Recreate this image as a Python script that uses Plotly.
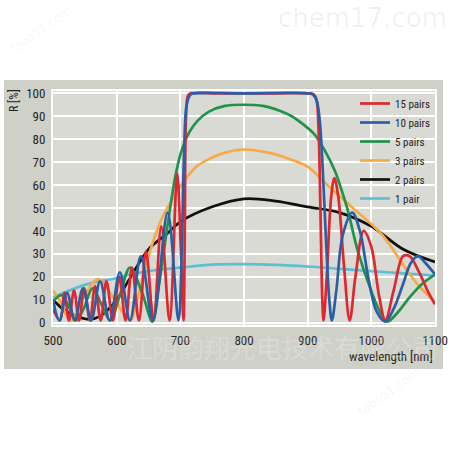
import plotly.graph_objects as go

# ---- data ----
wl_15 = [500,511,518,525,533,541,549,558,566,575,584,594,604,614,624,635,646,658,670,683,
         695,701,705,707,709,712,716,750,800,850,900,910,914,917,920,923,925,930,937,942,
         948,957,966,975,988,1000,1012,1022,1035,1050,1060,1075,1090,1100]
r_15 = [6,1,13,1,14,1,15,1,16,1,18,1,20,1,24,1,31,1,42,1,
        65,30,1,40,90,99,100,100,100,100,100,99.5,97,85,50,10,1,20,55,63,
        55,25,1,20,40,33,12,1,14,29,29,22,13,8]

wl_10 = [500,510,522,534,547,560,574,589,605,621,638,657,680,697,702,706,710,716,725,800,
         900,908,914,919,924,929,934,938,945,955,970,982,995,1008,1022,1035,1050,1062,1073,1085,1100]
r_10 = [10,1,13,1,15,1,18,1,22,1,29,1,48,1,30,75,95,99.5,100,100,
        100,99.5,97,88,65,35,10,1,14,38,48,40,20,5,0.5,6,17,26,29,26,21]

wl_5 = [500,513,525,536,548,562,576,590,605,621,640,656,664,674,684,693,703,714,727,745,
        770,800,830,855,875,895,911,927,943,953,963,979,1001,1015,1025,1040,1060,1080,1100]
r_5 = [9,12,7,1,6,15,8,1,12,24,13,0.5,12,31,50,65,76,83,88,92,
       94.5,95,94.5,92.5,90,86,82,75,66,58,49,31,13,4,0.5,4,11,17,21]

wl_3 = [500,510,528,550,571,597,621,632,645,658,672,688,704,725,750,775,800,840,870,900,
        927,955,979,1000,1021,1053,1075,1100]
r_3 = [14,10,1,12,19,10,1,10,24,36,46,54,61,68,72,74.5,75.5,74,71.5,68,
       61,54,48,43,37,24,16,9]

wl_2 = [500,520,540,557,575,600,620,650,680,700,750,800,850,900,950,1000,1050,1100]
r_2 = [10,5,2.5,1.5,3,10,19,32,39,44,50.5,54,53,50.5,48,42,32,26.5]

wl_1 = [500,550,600,621,650,700,750,800,850,900,950,1000,1050,1100]
r_1 = [11,16.5,19.5,21,22.5,24,25.3,25.5,25.2,24.5,23.5,22.5,21.5,20.5]

series_names = ["15 pairs", "10 pairs", "5 pairs", "3 pairs", "2 pairs", "1 pair"]
x_ticks = [500, 600, 700, 800, 900, 1000, 1100]
y_ticks = [0, 10, 20, 30, 40, 50, 60, 70, 80, 90, 100]

colors = {
    "15 pairs": "#e0262e",
    "10 pairs": "#2a5fa6",
    "5 pairs": "#1f9448",
    "3 pairs": "#f7a847",
    "2 pairs": "#111111",
    "1 pair": "#5cc0d4",
}
data = {
    "15 pairs": (wl_15, r_15),
    "10 pairs": (wl_10, r_10),
    "5 pairs": (wl_5, r_5),
    "3 pairs": (wl_3, r_3),
    "2 pairs": (wl_2, r_2),
    "1 pair": (wl_1, r_1),
}
draw_order = ["1 pair", "2 pairs", "3 pairs", "5 pairs", "15 pairs", "10 pairs"]

FONT = "Roboto Condensed, Liberation Sans Narrow, Arial Narrow, Liberation Sans, Arial, sans-serif"
TXT = "#262626"

fig = go.Figure()
for name in draw_order:
    x, y = data[name]
    fig.add_trace(go.Scatter(
        x=x, y=y, mode="lines", name=name,
        line=dict(color=colors[name], width=2.7, shape="spline", smoothing=1.0),
        legendrank=series_names.index(name) + 1,
    ))

# plot area pixel geometry (page pixels; body margin removed below)
L, R, T, B = 53, 16, 91, 126
W, H = 451 - L - R, 451 - T - B

def px(xp):
    return (xp - L) / W

def py(yp):
    return (451 - B - yp) / H

fig.update_layout(
    width=451, height=451,
    margin=dict(l=L, r=R, t=T, b=B, autoexpand=False),
    paper_bgcolor="white",
    plot_bgcolor="rgba(0,0,0,0)",
    showlegend=True,
    legend=dict(
        x=px(355), y=py(89), xanchor="left", yanchor="top",
        bgcolor="rgba(0,0,0,0)", font=dict(family=FONT, size=11, color=TXT),
        tracegroupgap=0, itemwidth=30,
    ),
    font=dict(family=FONT, color=TXT),
    shapes=[
        dict(type="rect", xref="paper", yref="paper",
             x0=px(4), x1=px(443), y0=py(369), y1=py(80),
             fillcolor="#cfd0c8", line=dict(width=0), layer="below"),
        dict(type="rect", xref="paper", yref="paper",
             x0=0, x1=1, y0=0, y1=1,
             fillcolor="#d9dad3", line=dict(width=0), layer="below"),
    ],
)

fig.update_xaxes(
    range=[500, 1100], tickvals=x_ticks, ticktext=[str(v) for v in x_ticks],
    showgrid=True, gridcolor="white", gridwidth=2,
    showline=True, linecolor="white", linewidth=2, mirror=True,
    zeroline=False, tickfont=dict(family=FONT, size=13, color=TXT),
    ticks="", ticklabelstandoff=2, automargin=False,
)
fig.update_yaxes(
    range=[-1, 101], tickvals=y_ticks, ticktext=[str(v) for v in y_ticks],
    showgrid=True, gridcolor="white", gridwidth=2,
    showline=True, linecolor="white", linewidth=2, mirror=True,
    zeroline=False, tickfont=dict(family=FONT, size=13, color=TXT),
    ticks="", ticklabelstandoff=3, automargin=False,
)

annotations = [
    dict(text="R [%]", x=px(14), y=py(101), xref="paper", yref="paper",
         xanchor="center", yanchor="middle",
         showarrow=False, textangle=-90, font=dict(family=FONT, size=12, color=TXT)),
    dict(text="wavelength [nm]", x=px(435), y=py(356), xref="paper", yref="paper",
         xanchor="right", yanchor="middle", showarrow=False,
         font=dict(family=FONT, size=13, color=TXT)),
    dict(text="chem17.com", x=px(362), y=py(18), xref="paper", yref="paper",
         xanchor="center", yanchor="middle", showarrow=False,
         font=dict(family="DejaVu Sans, sans-serif", size=26, color="rgba(0,0,0,0.06)")),
    dict(text="江阴韵翔光电技术有限公司", x=px(282), y=py(346), xref="paper", yref="paper",
         xanchor="center", yanchor="middle", showarrow=False,
         font=dict(family="Noto Sans CJK SC", size=26, color="rgba(255,255,255,0.22)")),
    dict(text="taoo51.com", x=px(40), y=py(30), xref="paper", yref="paper",
         xanchor="center", yanchor="middle", showarrow=False, textangle=-35,
         font=dict(family="DejaVu Sans, sans-serif", size=12, color="rgba(0,0,0,0.05)")),
    dict(text="taoo51.com", x=px(388), y=py(392), xref="paper", yref="paper",
         xanchor="center", yanchor="middle", showarrow=False, textangle=-35,
         font=dict(family="DejaVu Sans, sans-serif", size=12, color="rgba(0,0,0,0.06)")),
]
fig.update_layout(annotations=annotations)

fig.write_html("out.html", config={"displayModeBar": False},
               post_script="document.body.style.margin='0px';")
